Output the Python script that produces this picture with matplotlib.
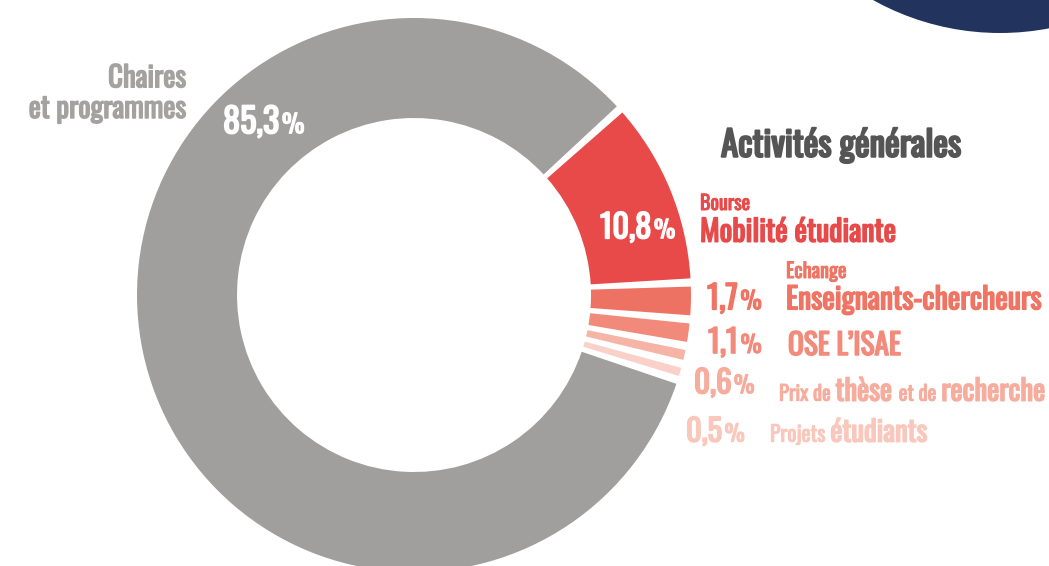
import matplotlib
matplotlib.use("Agg")
import matplotlib.pyplot as plt
from matplotlib.patches import Wedge, Circle
import matplotlib.patheffects as pe

# ---------------- data ----------------
categories = ["Chaires et programmes", "Bourse Mobilité étudiante",
              "Echange Enseignants-chercheurs", "OSE L’ISAE",
              "Prix de thèse et de recherche", "Projets étudiants"]
values = [85.3, 10.8, 1.7, 1.1, 0.6, 0.5]
pct_text = ["85,3", "10,8", "1,7", "1,1", "0,6", "0,5"]
title_text = "Activités générales"

# ---------------- styles ----------------
wedge_colors = ["#A09F9E", "#E84A4A", "#EE7263", "#F18A7A", "#F6B4A6", "#FAD1C8"]
text_colors = ["#A3A2A1", "#E84A4A", "#EF7464", "#F28B7B", "#F6AD9E", "#FAC7BC"]
FONT = ["Oswald", "DejaVu Sans"]
W, H = 1049, 566
CX, CY, R, RIN = 414, 295, 277, 177
PAD = 1.7          # angular gap between slices (deg)
START = -17.0      # angle where the drawing (counter-clockwise) begins
CAP = 0.80         # cap-height / font-size ratio estimate
PCT = 0.74         # size of the % sign relative to the digits

fig = plt.figure(figsize=(W / 100, H / 100), dpi=100)
fig.patch.set_facecolor("white")

# donut axes: 1 data unit = R pixels
ax = fig.add_axes([(CX - R) / W, (H - CY - R) / H, 2 * R / W, 2 * R / H])
ax.set_xlim(-1, 1)
ax.set_ylim(-1, 1)
ax.axis("off")

avail = 360 - PAD * len(values)
theta = START
for v, c in zip(values[::-1], wedge_colors[::-1]):
    span = v / 100 * avail
    ax.add_patch(Wedge((0, 0), 1, theta, theta + span, width=1 - RIN / R,
                       facecolor=c, edgecolor="none"))
    theta += span + PAD

# overlay axes in pixel coordinates for the texts
ov = fig.add_axes([0, 0, 1, 1])
ov.set_xlim(0, W)
ov.set_ylim(H, 0)
ov.axis("off")
ov.patch.set_alpha(0)

# decorative navy disc in the corner
ov.add_patch(Circle((1000, -228), 261, facecolor="#22335E", edgecolor="none"))

renderer = fig.canvas.get_renderer()


def pt(cap_px):
    return cap_px / CAP / 1.389


def place(parts, x, y, ha="left", gap=0.0):
    """parts: list of (text, cap_px, color, stroke)."""
    objs = []
    for s, cap, col, st in parts:
        t = ov.text(0, y, s, fontsize=pt(cap), color=col, family=FONT,
                    va="baseline", ha="left")
        if st > 0:
            t.set_path_effects([pe.withStroke(linewidth=st, foreground=col)])
        objs.append(t)
    widths = [o.get_window_extent(renderer).width for o in objs]
    total = sum(widths) + gap * (len(objs) - 1)
    cur = x - total if ha == "right" else x
    for o, w in zip(objs, widths):
        o.set_x(cur)
        cur += w + gap


def pct(s, cap, col, x, y):
    place([(s, cap, col, 1.2), ("%", cap * PCT, col, 0.8)], x, y, gap=2.5)


# title
place([(title_text, 28, "#555555", 1.5)], 721, 156.7)

# Chaires et programmes
place([("Chaires", 23, text_colors[0], 1.0)], 186, 87.3, ha="right")
place([("et programmes", 23, text_colors[0], 1.0)], 186, 118, ha="right")
pct(pct_text[0], 27.5, "white", 223, 133.3)

# Bourse Mobilité étudiante
pct(pct_text[1], 26, "white", 600, 238.3)
place([("Bourse", 16, text_colors[1], 0.7)], 700, 210)
place([("Mobilité étudiante", 23.8, text_colors[1], 1.1)], 700, 241.7)

# Echange Enseignants-chercheurs
pct(pct_text[2], 26, text_colors[2], 707, 309.3)
place([("Echange", 16.3, text_colors[2], 0.7)], 786, 278)
place([("Enseignants-chercheurs", 23.8, text_colors[2], 1.1)], 786, 309.3)

# OSE L'ISAE
pct(pct_text[3], 25.5, text_colors[3], 708, 353)
place([("OSE L’ISAE", 23.5, text_colors[3], 1.1)], 788, 355)

# Prix de thèse et de recherche
pct(pct_text[4], 25, text_colors[4], 694, 393.3)
place([("Prix de ", 16.5, text_colors[4], 0.7), ("thèse ", 23, text_colors[4], 1.1),
       ("et de ", 16.5, text_colors[4], 0.7), ("recherche", 23, text_colors[4], 1.1)], 779, 400.7)

# Projets étudiants
pct(pct_text[5], 24.5, text_colors[5], 686, 441.7)
place([("Projets ", 17.3, text_colors[5], 0.7), ("étudiants", 23, text_colors[5], 1.1)], 770, 441.7)

fig.savefig("out.png", dpi=100, facecolor="white")
